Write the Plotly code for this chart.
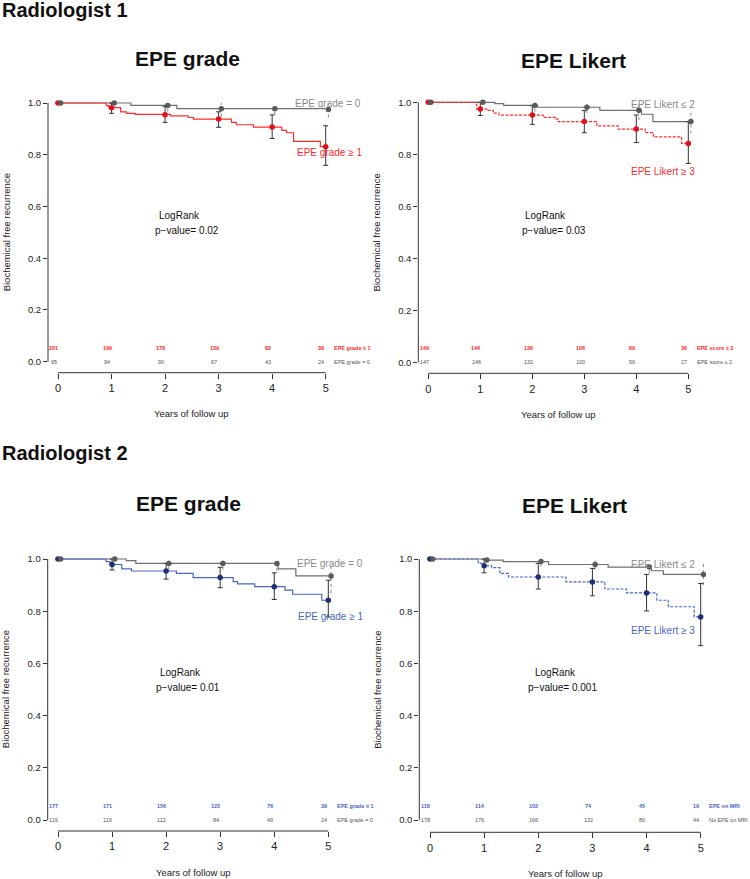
import plotly.graph_objects as go

W, H = 750, 879
FONT = "Liberation Sans, Arial, sans-serif"

years = [0, 1, 2, 3, 4, 5]

# ---------------- Radiologist 1 - EPE grade ----------------
r1g_ref_t = [0, 1.36, 2.22, 5.0]
r1g_ref_s = [1.0, 0.991, 0.978, 0.978]
r1g_ref_pts = [1.0, 1.0, 0.99, 0.978, 0.978, 0.975]
r1g_ref_lo = [1.0, 1.0, 0.966, 0.947, 0.954, 0.944]
r1g_ref_hi = [1.0, 1.0, 1.0, 1.0, 1.0, 1.0]
r1g_epe_t = [0, 0.90, 0.95, 1.17, 1.28, 1.44, 2.10, 2.43, 2.53, 3.24, 3.33, 3.65, 4.18, 4.27, 4.40, 4.90, 5.0]
r1g_epe_s = [1.0, 0.99, 0.982, 0.966, 0.960, 0.956, 0.950, 0.944, 0.938, 0.925, 0.916, 0.907, 0.894, 0.885, 0.852, 0.831, 0.831]
r1g_epe_pts = [1.0, 0.982, 0.955, 0.938, 0.907, 0.831]
r1g_epe_lo = [1.0, 0.960, 0.925, 0.906, 0.863, 0.759]
r1g_epe_hi = [1.0, 1.0, 0.986, 0.966, 0.954, 0.912]
r1g_risk_epe = [201, 196, 178, 139, 82, 39]
r1g_risk_ref = [95, 94, 90, 67, 43, 24]

# ---------------- Radiologist 1 - EPE Likert ----------------
r1l_ref_t = [0, 1.28, 1.45, 2.10, 3.30, 4.10, 4.32, 5.0]
r1l_ref_s = [1.0, 0.995, 0.988, 0.981, 0.969, 0.954, 0.926, 0.926]
r1l_ref_pts = [1.0, 1.0, 0.988, 0.981, 0.969, 0.926]
r1l_ref_lo = [1.0, 1.0, 0.964, 0.958, 0.932, 0.880]
r1l_ref_hi = [1.0, 1.0, 1.0, 1.0, 0.995, 0.970]
r1l_epe_t = [0, 0.93, 1.15, 1.25, 1.36, 2.21, 2.44, 2.50, 3.24, 3.65, 4.17, 4.33, 4.87, 5.0]
r1l_epe_s = [1.0, 0.974, 0.969, 0.958, 0.951, 0.942, 0.935, 0.926, 0.909, 0.897, 0.883, 0.867, 0.842, 0.842]
r1l_epe_pts = [1.0, 0.974, 0.951, 0.926, 0.897, 0.842]
r1l_epe_lo = [1.0, 0.949, 0.915, 0.883, 0.845, 0.765]
r1l_epe_hi = [1.0, 1.0, 0.987, 0.968, 0.951, 0.926]
r1l_risk_epe = [149, 144, 136, 106, 69, 36]
r1l_risk_ref = [147, 146, 132, 100, 56, 27]

# ---------------- Radiologist 2 - EPE grade ----------------
r2g_ref_t = [0, 1.26, 1.44, 4.07, 4.40, 5.0]
r2g_ref_s = [1.0, 0.994, 0.983, 0.962, 0.935, 0.935]
r2g_ref_pts = [1.0, 1.0, 0.983, 0.983, 0.983, 0.935]
r2g_ref_lo = [1.0, 1.0, 0.960, 0.960, 0.955, 0.870]
r2g_ref_hi = [1.0, 1.0, 1.0, 1.0, 1.0, 0.975]
r2g_epe_t = [0, 0.89, 0.96, 1.18, 1.36, 2.19, 2.50, 3.24, 3.32, 3.64, 4.20, 4.34, 4.88, 5.0]
r2g_epe_s = [1.0, 0.990, 0.979, 0.962, 0.954, 0.945, 0.929, 0.913, 0.905, 0.894, 0.881, 0.865, 0.842, 0.842]
r2g_epe_pts = [1.0, 0.979, 0.954, 0.929, 0.894, 0.842]
r2g_epe_lo = [1.0, 0.958, 0.923, 0.890, 0.845, 0.778]
r2g_epe_hi = [1.0, 1.0, 0.983, 0.968, 0.947, 0.919]
r2g_risk_epe = [177, 171, 156, 122, 76, 39]
r2g_risk_ref = [119, 119, 112, 84, 49, 24]

# ---------------- Radiologist 2 - EPE Likert ----------------
r2l_ref_t = [0, 1.02, 1.35, 2.19, 3.29, 4.09, 4.31, 5.0]
r2l_ref_s = [1.0, 0.996, 0.990, 0.979, 0.969, 0.955, 0.941, 0.941]
r2l_ref_pts = [1.0, 0.996, 0.990, 0.979, 0.969, 0.941]
r2l_ref_lo = [1.0, 1.0, 0.970, 0.960, 0.945, 0.900]
r2l_ref_hi = [1.0, 1.0, 1.0, 1.0, 0.990, 0.985]
r2l_epe_t = [0, 0.89, 0.98, 1.14, 1.29, 1.45, 2.51, 3.23, 3.63, 4.19, 4.40, 4.88, 5.0]
r2l_epe_s = [1.0, 0.983, 0.974, 0.967, 0.945, 0.931, 0.912, 0.885, 0.870, 0.842, 0.817, 0.778, 0.778]
r2l_epe_pts = [1.0, 0.974, 0.931, 0.912, 0.870, 0.778]
r2l_epe_lo = [1.0, 0.947, 0.885, 0.859, 0.801, 0.668]
r2l_epe_hi = [1.0, 1.0, 0.983, 0.964, 0.941, 0.906]
r2l_risk_epe = [118, 114, 102, 74, 45, 19]
r2l_risk_ref = [178, 176, 166, 132, 80, 44]

RED, RED_PT = "#ff2a2a", "#e3101c"
BLUE, BLUE_PT = "#4a64c8", "#1e2f78"
GRAY_LINE, GRAY_PT, GRAY_TXT = "#6e6e6e", "#5a5a5a", "#8a8a8a"
SHORT_DASH = "3px,1.5px"

panels = [
    dict(title="EPE grade", pval="p\u2212value= 0.02",
         ref=(r1g_ref_t, r1g_ref_s, r1g_ref_pts, r1g_ref_lo, r1g_ref_hi),
         epe=(r1g_epe_t, r1g_epe_s, r1g_epe_pts, r1g_epe_lo, r1g_epe_hi),
         risk_epe=r1g_risk_epe, risk_ref=r1g_risk_ref,
         lab_ref="EPE grade = 0", lab_epe="EPE grade \u2265 1",
         rlab_epe="EPE grade \u2265 1", rlab_ref="EPE grade = 0",
         col=RED, colpt=RED_PT, dash="solid",
         g=dict(ax_l=48, x0p=58, x5p=325.7, y1p=103, y0p=361.7, ax_b=372.7,
                tx=187, ty=58, lrx=179, lry=215.7, pvx=187, pvy=230.7,
                lrefx=363, lrefy=103, lepex=364, lepey=152.7)),
    dict(title="EPE Likert", pval="p\u2212value= 0.03",
         ref=(r1l_ref_t, r1l_ref_s, r1l_ref_pts, r1l_ref_lo, r1l_ref_hi),
         epe=(r1l_epe_t, r1l_epe_s, r1l_epe_pts, r1l_epe_lo, r1l_epe_hi),
         risk_epe=r1l_risk_epe, risk_ref=r1l_risk_ref,
         lab_ref="EPE Likert \u2264 2", lab_epe="EPE Likert \u2265 3",
         rlab_epe="EPE score \u2265 3", rlab_ref="EPE score \u2264 2",
         col=RED, colpt=RED_PT, dash=SHORT_DASH,
         g=dict(ax_l=418.3, x0p=428.3, x5p=688.3, y1p=102.3, y0p=362.3, ax_b=373.3,
                tx=573, ty=60, lrx=545.7, lry=215.7, pvx=554, pvy=230.7,
                lrefx=696.7, lrefy=104, lepex=696.7, lepey=171.7)),
    dict(title="EPE grade", pval="p\u2212value= 0.01",
         ref=(r2g_ref_t, r2g_ref_s, r2g_ref_pts, r2g_ref_lo, r2g_ref_hi),
         epe=(r2g_epe_t, r2g_epe_s, r2g_epe_pts, r2g_epe_lo, r2g_epe_hi),
         risk_epe=r2g_risk_epe, risk_ref=r2g_risk_ref,
         lab_ref="EPE grade = 0", lab_epe="EPE grade \u2265 1",
         rlab_epe="EPE grade \u2265 1", rlab_ref="EPE grade = 0",
         col=BLUE, colpt=BLUE_PT, dash="solid",
         g=dict(ax_l=47.7, x0p=58, x5p=328.3, y1p=559, y0p=820, ax_b=831,
                tx=188, ty=503, lrx=180, lry=672.7, pvx=188, pvy=687.7,
                lrefx=365, lrefy=563.3, lepex=365, lepey=616.7)),
    dict(title="EPE Likert", pval="p\u2212value= 0.001",
         ref=(r2l_ref_t, r2l_ref_s, r2l_ref_pts, r2l_ref_lo, r2l_ref_hi),
         epe=(r2l_epe_t, r2l_epe_s, r2l_epe_pts, r2l_epe_lo, r2l_epe_hi),
         risk_epe=r2l_risk_epe, risk_ref=r2l_risk_ref,
         lab_ref="EPE Likert \u2264 2", lab_epe="EPE Likert \u2265 3",
         rlab_epe="EPE on MRI", rlab_ref="No EPE on MRI",
         col=BLUE, colpt=BLUE_PT, dash=SHORT_DASH,
         g=dict(ax_l=419.3, x0p=430, x5p=700.7, y1p=559, y0p=820, ax_b=832.3,
                tx=574, ty=505, lrx=555, lry=672.7, pvx=562.7, pvy=687.7,
                lrefx=696.7, lrefy=564, lepex=696.7, lepey=630)),
]

fig = go.Figure()
annotations = []
shapes = []
layout_axes = {}


def pxx(x):
    return x / W


def pxy(y):
    return 1 - y / H


def ann(text, x, y, size, color="#111", bold=False, xanchor="center",
        xref="paper", yref="paper", textangle=0):
    if bold:
        text = "<b>" + text + "</b>"
    annotations.append(dict(text=text, x=x, y=y, xref=xref, yref=yref,
                            xanchor=xanchor, yanchor="middle", showarrow=False,
                            textangle=textangle,
                            font=dict(family=FONT, size=size, color=color)))


for i, p in enumerate(panels, start=1):
    g = p["g"]
    s = (g["x5p"] - g["x0p"]) / 5.0
    right = g["x5p"] + 25
    top = g["y1p"] - 12
    ys = g["y0p"] - g["y1p"]
    xr = [(g["ax_l"] - g["x0p"]) / s, (right - g["x0p"]) / s]
    yr = [(g["y0p"] - g["ax_b"]) / ys, (g["y0p"] - top) / ys]
    suf = "" if i == 1 else str(i)
    xa, ya = "x" + suf, "y" + suf
    xname, yname = "xaxis" + suf, "yaxis" + suf
    layout_axes[xname] = dict(domain=[pxx(g["ax_l"]), pxx(right)], range=xr,
                              anchor=ya, showgrid=False, zeroline=False, showline=False,
                              ticks="outside", ticklen=5, tickwidth=1, tickcolor="#333",
                              tickvals=years, ticktext=[str(v) for v in years],
                              tickfont=dict(family=FONT, size=11, color="#222"))
    layout_axes[yname] = dict(domain=[pxy(g["ax_b"]), pxy(top)], range=yr,
                              anchor=xa, showgrid=False, zeroline=False, showline=False,
                              ticks="outside", ticklen=4, tickwidth=1, tickcolor="#333",
                              tickvals=[0, 0.2, 0.4, 0.6, 0.8, 1.0], tickformat=".1f",
                              tickfont=dict(family=FONT, size=9.5, color="#222"))
    # axis lines only spanning the tick range (R style)
    shapes.append(dict(type="line", xref=xa, yref=ya + " domain", x0=0, x1=5, y0=0, y1=0,
                       line=dict(color="#333", width=1)))
    shapes.append(dict(type="line", xref=xa + " domain", yref=ya, x0=0, x1=0, y0=0, y1=1,
                       line=dict(color="#333", width=1)))

    rt, rs, rpts, rlo, rhi = p["ref"]
    et, es, epts, elo, ehi = p["epe"]
    dodge = 0.05

    # step curves
    fig.add_trace(go.Scatter(x=rt, y=rs, mode="lines", line_shape="hv",
                             line=dict(color=GRAY_LINE, width=1.2), xaxis=xa, yaxis=ya,
                             showlegend=False, hoverinfo="skip"))
    fig.add_trace(go.Scatter(x=et, y=es, mode="lines", line_shape="hv",
                             line=dict(color=p["col"], width=1.2, dash=p["dash"]),
                             xaxis=xa, yaxis=ya, showlegend=False, hoverinfo="skip"))
    # dotted gray CIs
    cx, cy = [], []
    for t, lo, hi in zip(years[1:], rlo[1:], rhi[1:]):
        if hi - lo > 0.001:
            cx += [t + dodge, t + dodge, None]
            cy += [lo, hi, None]
    fig.add_trace(go.Scatter(x=cx, y=cy, mode="lines",
                             line=dict(color="#8a8a8a", width=1, dash="dot"),
                             xaxis=xa, yaxis=ya, showlegend=False, hoverinfo="skip"))
    # colored points with solid CIs
    fig.add_trace(go.Scatter(x=years, y=epts, mode="markers",
                             marker=dict(color=p["colpt"], size=5.5),
                             error_y=dict(type="data", symmetric=False,
                                          array=[h - v for h, v in zip(ehi, epts)],
                                          arrayminus=[v - l for v, l in zip(epts, elo)],
                                          color="#333", thickness=1, width=2.5),
                             xaxis=xa, yaxis=ya, showlegend=False, cliponaxis=False,
                             hoverinfo="skip"))
    # gray points
    fig.add_trace(go.Scatter(x=[t + dodge for t in years], y=rpts, mode="markers",
                             marker=dict(color=GRAY_PT, size=5.5),
                             xaxis=xa, yaxis=ya, showlegend=False, cliponaxis=False,
                             hoverinfo="skip"))

    # texts
    ann(p["title"], pxx(g["tx"]), pxy(g["ty"]), 21, "#111", bold=True)
    ann("LogRank", pxx(g["lrx"]), pxy(g["lry"]), 10, "#111")
    ann(p["pval"], pxx(g["pvx"]), pxy(g["pvy"]), 10, "#111")
    ann(p["lab_ref"], pxx(g["lrefx"]), pxy(g["lrefy"]), 10, GRAY_TXT, xanchor="right")
    ann(p["lab_epe"], pxx(g["lepex"]), pxy(g["lepey"]), 10, p["col"], xanchor="right")
    ann("Years of follow up", pxx((g["x0p"] + g["x5p"]) / 2), pxy(g["ax_b"] + 41), 9.5, "#222")
    ann("Biochemical free recurrence", pxx(g["ax_l"] - 42), pxy((g["y0p"] + g["y1p"]) / 2),
        9.5, "#222", textangle=-90)
    # risk table
    for t, n1, n0 in zip(years, p["risk_epe"], p["risk_ref"]):
        ann(str(n1), t - 0.08, 0.054, 5.5, p["col"], bold=True, xref=xa, yref=ya)
        ann(str(n0), t - 0.08, 0.0, 5.5, "#555", xref=xa, yref=ya)
    ann(p["rlab_epe"], 5.12, 0.054, 5.5, p["col"], bold=True, xanchor="left", xref=xa, yref=ya)
    ann(p["rlab_ref"], 5.12, 0.0, 5.5, "#555", xanchor="left", xref=xa, yref=ya)

ann("Radiologist 1", 0, pxy(10), 20, "#111", bold=True, xanchor="left")
ann("Radiologist 2", 0, pxy(453), 20, "#111", bold=True, xanchor="left")

fig.update_layout(width=W, height=H, margin=dict(l=0, r=0, t=0, b=0),
                  paper_bgcolor="white", plot_bgcolor="white",
                  annotations=annotations, shapes=shapes, showlegend=False,
                  **layout_axes)

fig.write_html("out.html", config={"displayModeBar": False},
               post_script="document.body.style.margin='0';"
                           "document.body.style.padding='0';"
                           "document.documentElement.style.overflow='hidden';")
